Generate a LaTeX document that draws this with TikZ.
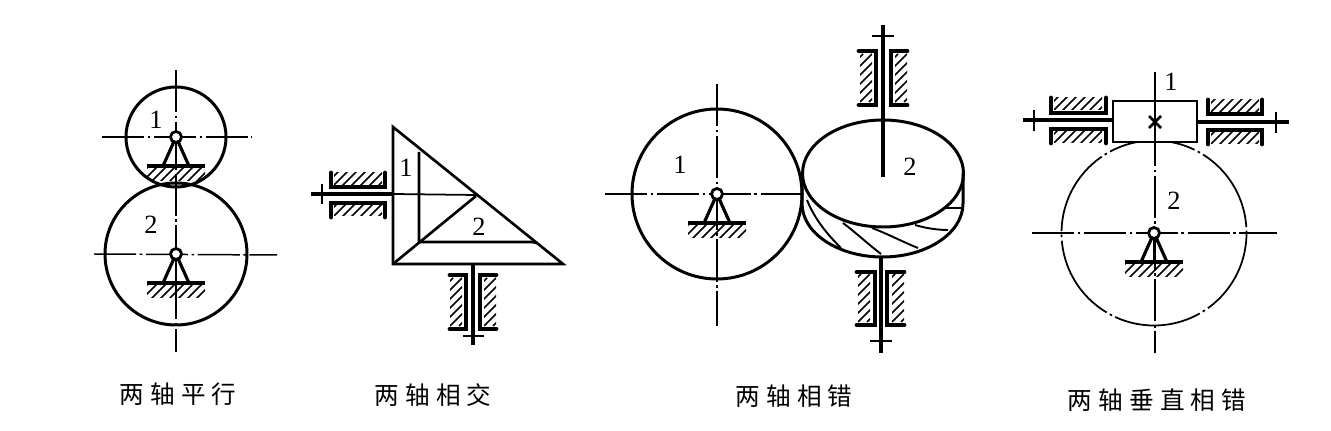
\documentclass[tikz,border=0pt]{standalone}
\usepackage{fontspec}
\newfontfamily\cjk[LetterSpace=25]{Noto Sans CJK SC}
\newfontfamily\digits{Liberation Serif}
\tikzset{
  wheel/.style={line width=1.7pt},
  axisline/.style={line width=0.85pt, dash pattern=on 24pt off 2pt on 1.5pt off 2pt},
  shaft/.style={line width=2.1pt},
  bush/.style={line width=2.8pt, line cap=round, line join=miter},
  hatchline/.style={line width=0.85pt},
  tick/.style={line width=1pt},
  edge/.style={line width=1.5pt, line join=miter},
  tooth/.style={line width=1.1pt},
  num/.style={font=\fontsize{15}{15}\selectfont\digits},
  caption/.style={font=\fontsize{14}{15}\selectfont\cjk}
}
% hatching: centre x, centre y, half width, half height
\newcommand{\hatchbox}[4]{
\begin{scope}
\clip (#1-#3, #2-#4) rectangle (#1+#3, #2+#4);
\foreach \s in {-63, -54, ..., 63}{\draw [hatchline] (#1+\s-24, #2+24) -- (#1+\s+24, #2-24);}
\end{scope}}
% pivot with its base: centre x, centre y
\newcommand{\pivotmark}[2]{
\draw [line width=1.8pt] (#1-13, #2+29) -- (#1, #2) -- (#1+13, #2+29);
\draw [hatchline] (#1, #2) -- (#1, #2+29);
\draw [line width=2.6pt] (#1-29, #2+29) -- (#1+29, #2+29);
\hatchbox{#1}{#2+38}{29}{6}
\draw [line width=1.6pt, fill=white] (#1, #2) circle (5.5);}
\begin{document}
\begin{tikzpicture}[x=0.02cm, y=-0.02cm]
\useasboundingbox [fill=white] (0, 0) rectangle (1331, 431);

% two parallel shafts
\draw [axisline] (176, 70) -- (176, 352);
\draw [axisline] (102, 137) -- (252, 137);
\draw [axisline] (94, 254) -- (277, 255);
\begin{scope}
\clip (176, 137) circle (50);
\pivotmark{176}{137}
\end{scope}
\pivotmark{176}{254}
\draw [wheel] (176, 137) circle (50);
\draw [wheel] (176, 254) circle (71);
\node [num] (numAa) at (156, 120) {1};
\node [num] (numAb) at (151, 225) {2};

% two intersecting shafts
\draw [edge] (393, 127) -- (393, 264) -- (563, 264) -- cycle;
\draw [edge] (419, 152) -- (419, 242) -- (532, 242) -- (537, 243);
\draw [edge] (393, 264) -- (476, 196);
\draw [tick] (393, 194) -- (476, 195);
\draw [shaft] (311, 194) -- (393, 194);
\draw [tick] (322, 184) -- (322, 204);
\draw [shaft] (473, 264) -- (473, 345);
\draw [tick] (463, 336) -- (484, 336);
\hatchbox{358}{179}{24}{6}
\hatchbox{358}{210}{24}{6}
\draw [bush] (331, 173) -- (331, 187) -- (385, 187) -- (385, 173);
\draw [bush] (331, 217) -- (331, 203) -- (385, 203) -- (385, 217);
\hatchbox{456}{302}{6}{26}
\hatchbox{490}{302}{6}{26}
\draw [bush] (450, 275) -- (466, 275) -- (466, 329) -- (450, 329);
\draw [bush] (496, 275) -- (480, 275) -- (480, 329) -- (496, 329);
\node [num] (numBa) at (406, 168) {1};
\node [num] (numBb) at (479, 227) {2};

% two crossed shafts
\draw [axisline] (717, 84) -- (717, 326);
\draw [axisline] (605, 194) -- (804, 194);
\pivotmark{717}{194}
\draw [wheel] (717, 194) circle (85);
\draw [wheel] (883, 173.5) ellipse [x radius=80.5, y radius=53.5];
\draw [wheel] (802, 173.5) -- (802, 203.5) arc [start angle=180, end angle=0, x radius=80.5, y radius=53.5] -- (963, 173.5);
\draw [tooth] (807, 200) .. controls (815, 220) and (828, 235) .. (841, 248);
\draw [tooth] (843, 223) .. controls (855, 232) and (868, 244) .. (881, 254);
\draw [tooth] (872, 228) .. controls (888, 234) and (903, 242) .. (918, 248);
\draw [tooth] (915, 225) .. controls (925, 228) and (937, 230) .. (948, 230);
\draw [tooth] (945, 208) -- (962, 208);
\draw [shaft] (883, 25) -- (883, 177);
\draw [tick] (872, 36) -- (894, 36);
\draw [shaft] (881, 257) -- (881, 353);
\draw [tick] (870, 341) -- (892, 341);
\hatchbox{866}{78}{6}{26}
\hatchbox{901}{78}{6}{26}
\draw [bush] (859, 51) -- (876, 51) -- (876, 105) -- (859, 105);
\draw [bush] (907, 51) -- (891, 51) -- (891, 105) -- (907, 105);
\hatchbox{864}{298}{6}{26}
\hatchbox{898}{298}{6}{26}
\draw [bush] (857, 272) -- (875, 272) -- (875, 325) -- (857, 325);
\draw [bush] (904, 272) -- (887, 272) -- (887, 325) -- (904, 325);
\node [num] (numCa) at (680, 165) {1};
\node [num] (numCb) at (910, 167) {2};

% perpendicular crossed shafts
\draw [line width=1pt, dash pattern=on 50pt off 2pt on 1.5pt off 2pt] (1154, 233) circle (92.5);
\draw [axisline] (1155, 72) -- (1155, 353);
\draw [axisline] (1032, 233) -- (1277, 233);
\pivotmark{1154}{233}
\draw [edge, fill=white] (1113, 101) rectangle (1197, 142);
\draw [tick] (1155, 101) -- (1155, 142);
\draw [line width=1.5pt] (1149, 116) -- (1161, 128);
\draw [line width=1.5pt] (1149, 128) -- (1161, 116);
\draw [shaft] (1023, 120) -- (1113, 120);
\draw [tick] (1034, 110) -- (1034, 131);
\draw [shaft] (1197, 122) -- (1289, 122);
\draw [tick] (1276, 112) -- (1276, 133);
\hatchbox{1078}{104}{24}{6}
\hatchbox{1078}{137}{24}{6}
\hatchbox{1235}{106}{24}{6}
\hatchbox{1235}{138}{24}{6}
\draw [bush] (1051, 98) -- (1051, 113) -- (1106, 113) -- (1106, 98);
\draw [bush] (1051, 143) -- (1051, 129) -- (1106, 129) -- (1106, 143);
\draw [bush] (1208, 100) -- (1208, 114) -- (1262, 114) -- (1262, 100);
\draw [bush] (1208, 144) -- (1208, 130) -- (1262, 130) -- (1262, 144);
\node [num] (numDa) at (1171, 82) {1};
\node [num] (numDb) at (1174, 201) {2};

% captions
\node [caption] (capA) at (178, 394) {两轴平行};
\node [caption] (capB) at (433, 395) {两轴相交};
\node [caption] (capC) at (794, 396) {两轴相错};
\node [caption] (capD) at (1157, 400) {两轴垂直相错};
\end{tikzpicture}
\end{document}
